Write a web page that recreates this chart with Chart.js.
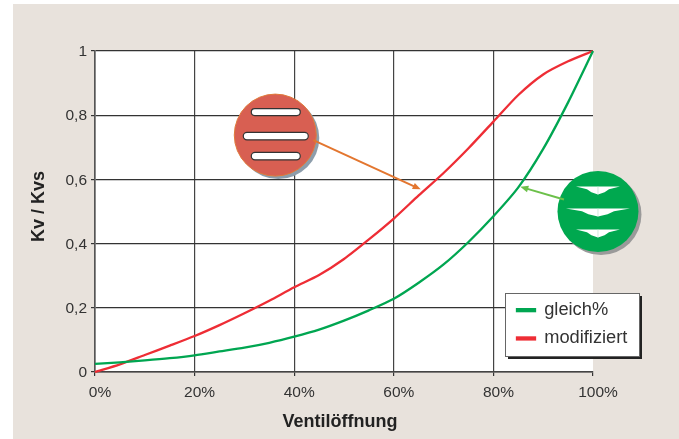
<!DOCTYPE html>
<html><head><meta charset="utf-8">
<style>html,body{margin:0;padding:0;background:#fff}#w{position:relative;width:679px;height:439px}</style>
<script src="https://cdn.jsdelivr.net/npm/chart.js@4"></script></head>
<body><div id="w"><canvas id="c" width="679" height="439"></canvas></div>
<script>
const opening = [0,5,10,15,20,25,30,35,40,45,50,55,60,65,70,75,80,85,90,95,100];
const gleich = [.025,.03,.036,.043,.052,.064,.076,.091,.11,.132,.16,.192,.228,.278,.335,.405,.485,.575,.695,.84,1];
const modifiziert = [0,.024,.053,.082,.112,.146,.183,.222,.264,.302,.352,.413,.478,.55,.62,.697,.78,.863,.927,.968,1];
const seriesNames = ['gleich%','modifiziert'];
const xTitle = 'Ventilöffnung';
const yTitle = 'Kv / Kvs';
const redValve = {x:36.2, y:.738};
const greenValve = {x:101, y:.5};
const redArrowTip = {x:65.4, y:.569};
const greenArrowTip = {x:85.4, y:.577};

const tickFont = {family:'"Liberation Sans",Arial,sans-serif', size:15.5};
const titleFont = {family:'"Liberation Sans",Arial,sans-serif', size:18, weight:'bold'};

function circle(ctx,x,y,r){ctx.beginPath();ctx.arc(x,y,r,0,Math.PI*2);}
function capsule(ctx,x0,x1,y,h){
  ctx.beginPath();ctx.roundRect(x0,y-h/2,x1-x0,h,h/2);ctx.fillStyle='#fff';ctx.fill();
  ctx.lineWidth=1.2;ctx.strokeStyle='#333';ctx.stroke();
}
function blade(ctx,cx,y,hw,h){
  ctx.beginPath();ctx.moveTo(cx-hw,y);ctx.lineTo(cx+hw,y);
  ctx.lineTo(cx+hw*.5,y+h*.35);ctx.lineTo(cx+hw*.3,y+h*.72);ctx.lineTo(cx,y+h);
  ctx.lineTo(cx-hw*.3,y+h*.72);ctx.lineTo(cx-hw*.5,y+h*.35);ctx.closePath();
  ctx.fillStyle='#fff';ctx.fill();
  ctx.beginPath();ctx.moveTo(cx,y);ctx.lineTo(cx,y+h);ctx.strokeStyle='#bfe3cf';ctx.lineWidth=.7;ctx.stroke();
}
function arrow(ctx,x0,y0,x1,y1,color){
  const a=Math.atan2(y1-y0,x1-x0),L=8,W=3.4;
  ctx.strokeStyle=color;ctx.fillStyle=color;ctx.lineWidth=2;
  ctx.beginPath();ctx.moveTo(x0,y0);ctx.lineTo(x1-L*.6*Math.cos(a),y1-L*.6*Math.sin(a));ctx.stroke();
  ctx.beginPath();ctx.moveTo(x1,y1);
  ctx.lineTo(x1-L*Math.cos(a)-W*Math.sin(a),y1-L*Math.sin(a)+W*Math.cos(a));
  ctx.lineTo(x1-L*Math.cos(a)+W*Math.sin(a),y1-L*Math.sin(a)-W*Math.cos(a));
  ctx.closePath();ctx.fill();
}
const deco = {
  id:'deco',
  beforeDraw(ch){const c=ch.ctx;c.save();c.fillStyle='#fff';c.fillRect(0,0,679,439);c.fillStyle='#e8e2dc';c.fillRect(13,4,666,435);
    const a=ch.chartArea;c.fillStyle='#fff';c.fillRect(a.left,a.top,a.right-a.left,a.bottom-a.top);c.restore();},
  afterLayout(ch){
    const l=ch.legend;
    if(!l._wrapped){
      l._wrapped=true;
      const d=l.draw.bind(l);
      l.draw=function(){
        const c=ch.ctx;c.save();
        c.fillStyle='#222';c.fillRect(508,296,134,63);
        c.fillStyle='#fff';c.strokeStyle='#666';c.lineWidth=1;c.fillRect(505.5,293.5,134,63);c.strokeRect(505.5,293.5,134,63);
        c.restore();d();
      };
      const xs=ch.scales.x,t=xs.drawTitle.bind(xs);
      xs.drawTitle=function(){ch.ctx.save();ch.ctx.translate(-4,0);t();ch.ctx.restore();};
      const ys=ch.scales.y,u=ys.drawTitle.bind(ys);
      ys.drawTitle=function(){ch.ctx.save();ch.ctx.translate(0,-5);u();ch.ctx.restore();};
    }
    l.left=507;l.right=639;l.top=291;l.bottom=359;l.width=132;l.height=68;
  },
  afterDatasetsDraw(ch){
    const c=ch.ctx,X=ch.scales.x,Y=ch.scales.y;
    c.save();
    const rx=X.getPixelForValue(redValve.x),ry=Y.getPixelForValue(redValve.y);
    c.fillStyle='#8d9dab';circle(c,rx+3,ry+3,41);c.fill();
    c.fillStyle='#d85f52';c.strokeStyle='#e07a3a';c.lineWidth=1;circle(c,rx,ry,41);c.fill();c.stroke();
    capsule(c,rx-24,rx+25,ry-23,7);
    capsule(c,rx-32,rx+33,ry+1,7.5);
    capsule(c,rx-24,rx+25,ry+21,7.5);
    arrow(c,rx+38,ry+5,X.getPixelForValue(redArrowTip.x),Y.getPixelForValue(redArrowTip.y),'#e3762f');
    const gx=X.getPixelForValue(greenValve.x),gy=Y.getPixelForValue(greenValve.y);
    c.fillStyle='#9a9a9a';circle(c,gx+3,gy+3,40.5);c.fill();
    c.fillStyle='#00a84f';circle(c,gx,gy,40.5);c.fill();
    blade(c,gx,gy-25,22,8);
    blade(c,gx,gy-3,32,8);
    blade(c,gx,gy+18,22,8);
    arrow(c,gx-34,gy-12,X.getPixelForValue(greenArrowTip.x),Y.getPixelForValue(greenArrowTip.y),'#6cc04a');
    c.restore();
  }
};
const toPts = v => v.map((y,i)=>({x:opening[i],y}));
new Chart(document.getElementById('c'),{
  type:'line',
  data:{datasets:[
    {label:seriesNames[0],data:toPts(gleich),borderColor:'#00a651',backgroundColor:'#00a651',borderWidth:2.3,pointRadius:0,tension:.25,clip:false},
    {label:seriesNames[1],data:toPts(modifiziert),borderColor:'#ee2d35',backgroundColor:'#ee2d35',borderWidth:2.3,pointRadius:0,tension:.25,clip:false}
  ]},
  options:{
    responsive:false,animation:false,devicePixelRatio:1,
    layout:{padding:{top:51,right:86,left:0,bottom:0}},
    plugins:{tooltip:{enabled:false},
      legend:{position:'chartArea',align:'start',
        labels:{boxWidth:18,boxHeight:2,padding:10,color:'#333',font:{family:'"Liberation Sans",Arial,sans-serif',size:18.3}}}},
    scales:{
      x:{type:'linear',min:0,max:100,
        afterFit(s){s.height=67;},
        ticks:{stepSize:20,callback:v=>v+'%',color:'#333',font:tickFont,padding:7,labelOffset:5,maxRotation:0},
        grid:{color:c=>c.tick&&c.tick.value===100?'rgba(0,0,0,0)':'#444',lineWidth:1.2,tickLength:4,tickColor:'#333'},
        border:{color:'#444',width:1.4},
        title:{display:true,text:xTitle,color:'#222',font:titleFont,padding:{top:0,bottom:6}}},
      y:{min:0,max:1,
        afterFit(s){s.width=95;},
        ticks:{stepSize:.2,callback:v=>String(+v.toFixed(1)).replace('.',','),color:'#333',font:tickFont,padding:4,labelOffset:1},
        grid:{color:'#333',lineWidth:1.2,tickLength:4,tickColor:'#333'},
        border:{color:'#555',width:1.6},
        title:{display:true,text:yTitle,color:'#222',font:titleFont,padding:{top:28,bottom:0}}}
    }
  },
  plugins:[deco]
});
</script></body></html>
